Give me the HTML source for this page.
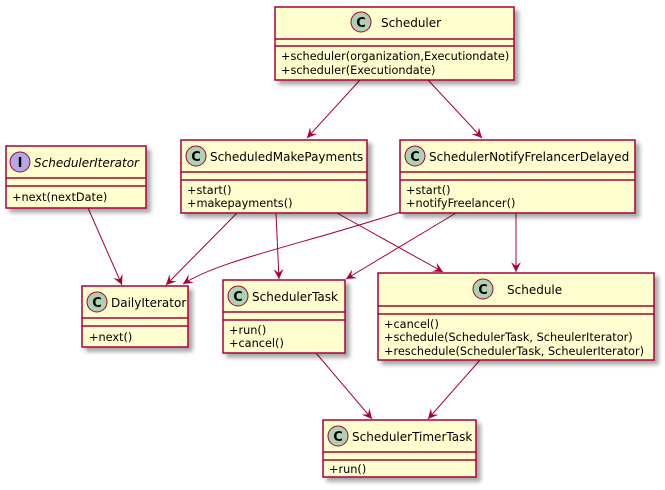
<!DOCTYPE html>
<html><head><style>body{margin:0;background:#fff}svg{display:block}text{font-family:"DejaVu Sans","Liberation Sans",sans-serif;fill:#000}</style></head><body>
<svg width="665" height="490" viewBox="0 0 665 490" xmlns="http://www.w3.org/2000/svg">
<defs>
<filter id="sh" x="-10%" y="-10%" width="130%" height="130%"><feGaussianBlur in="SourceAlpha" stdDeviation="2"/><feOffset dx="4" dy="4"/><feComponentTransfer><feFuncA type="linear" slope="0.35"/></feComponentTransfer><feMerge><feMergeNode/><feMergeNode in="SourceGraphic"/></feMerge></filter>
<marker id="a" markerWidth="12" markerHeight="12" refX="10" refY="5" orient="auto" markerUnits="userSpaceOnUse"><path d="M0,0 L10,5 L0,10 L4,5 Z" fill="#A80036"/></marker>
</defs>
<g stroke="#A80036" fill="none" stroke-width="1">
<line x1="360" y1="80" x2="307" y2="138" marker-end="url(#a)"/>
<line x1="428" y1="80" x2="482" y2="138" marker-end="url(#a)"/>
<line x1="88" y1="208" x2="122" y2="285" marker-end="url(#a)"/>
<line x1="237" y1="213" x2="166" y2="285" marker-end="url(#a)"/>
<path d="M401,212 C300,245 220,260 183,284" marker-end="url(#a)"/>
<line x1="456" y1="213" x2="346" y2="279" marker-end="url(#a)"/>
<line x1="516" y1="213" x2="516" y2="272" marker-end="url(#a)"/>
<line x1="276" y1="213" x2="279" y2="279" marker-end="url(#a)"/>
<line x1="337" y1="213" x2="443" y2="272" marker-end="url(#a)"/>
<line x1="316" y1="353" x2="372" y2="419" marker-end="url(#a)"/>
<line x1="480" y1="360" x2="428" y2="419" marker-end="url(#a)"/>
</g>
<g font-size="11.3">
<g filter="url(#sh)"><rect x="275" y="7" width="239" height="73" fill="#FEFECE" stroke="#A80036" stroke-width="1.5"/></g>
<line x1="275" y1="39" x2="514" y2="39" stroke="#A80036" stroke-width="1.5"/><line x1="275" y1="46" x2="514" y2="46" stroke="#A80036" stroke-width="1.5"/>
<circle cx="361" cy="22" r="10" fill="#ADD1B2" stroke="#A80036"/><text x="361" y="27" font-size="13" font-weight="bold" text-anchor="middle">C</text>
<text x="381" y="27" font-size="12">Scheduler</text>
<text x="281" y="60">+scheduler(organization,Executiondate)</text><text x="281" y="74">+scheduler(Executiondate)</text>

<g filter="url(#sh)"><rect x="6" y="146" width="140" height="62" fill="#FEFECE" stroke="#A80036" stroke-width="1.5"/></g>
<line x1="6" y1="178" x2="146" y2="178" stroke="#A80036" stroke-width="1.5"/><line x1="6" y1="186" x2="146" y2="186" stroke="#A80036" stroke-width="1.5"/>
<circle cx="20" cy="162" r="10" fill="#B4A7E5" stroke="#A80036"/><text x="20" y="167" font-size="13" font-weight="bold" text-anchor="middle">I</text>
<text x="34" y="167" font-size="12" font-style="italic">SchedulerIterator</text>
<text x="12" y="201">+next(nextDate)</text>

<g filter="url(#sh)"><rect x="181" y="140" width="186" height="73" fill="#FEFECE" stroke="#A80036" stroke-width="1.5"/></g>
<line x1="181" y1="172" x2="367" y2="172" stroke="#A80036" stroke-width="1.5"/><line x1="181" y1="180" x2="367" y2="180" stroke="#A80036" stroke-width="1.5"/>
<circle cx="196" cy="156" r="10" fill="#ADD1B2" stroke="#A80036"/><text x="196" y="161" font-size="13" font-weight="bold" text-anchor="middle">C</text>
<text x="210" y="161" font-size="12">ScheduledMakePayments</text>
<text x="187" y="194">+start()</text><text x="187" y="207">+makepayments()</text>

<g filter="url(#sh)"><rect x="400" y="140" width="235" height="73" fill="#FEFECE" stroke="#A80036" stroke-width="1.5"/></g>
<line x1="400" y1="172" x2="635" y2="172" stroke="#A80036" stroke-width="1.5"/><line x1="400" y1="180" x2="635" y2="180" stroke="#A80036" stroke-width="1.5"/>
<circle cx="415" cy="156" r="10" fill="#ADD1B2" stroke="#A80036"/><text x="415" y="161" font-size="13" font-weight="bold" text-anchor="middle">C</text>
<text x="429" y="161" font-size="12">SchedulerNotifyFrelancerDelayed</text>
<text x="406" y="194">+start()</text><text x="406" y="207">+notifyFreelancer()</text>

<g filter="url(#sh)"><rect x="82" y="286" width="106" height="61" fill="#FEFECE" stroke="#A80036" stroke-width="1.5"/></g>
<line x1="82" y1="318" x2="188" y2="318" stroke="#A80036" stroke-width="1.5"/><line x1="82" y1="326" x2="188" y2="326" stroke="#A80036" stroke-width="1.5"/>
<circle cx="97" cy="302" r="10" fill="#ADD1B2" stroke="#A80036"/><text x="97" y="307" font-size="13" font-weight="bold" text-anchor="middle">C</text>
<text x="111" y="307" font-size="12">DailyIterator</text>
<text x="89" y="341">+next()</text>

<g filter="url(#sh)"><rect x="223" y="280" width="122" height="73" fill="#FEFECE" stroke="#A80036" stroke-width="1.5"/></g>
<line x1="223" y1="312" x2="345" y2="312" stroke="#A80036" stroke-width="1.5"/><line x1="223" y1="320" x2="345" y2="320" stroke="#A80036" stroke-width="1.5"/>
<circle cx="238" cy="296" r="10" fill="#ADD1B2" stroke="#A80036"/><text x="238" y="301" font-size="13" font-weight="bold" text-anchor="middle">C</text>
<text x="252" y="301" font-size="12">SchedulerTask</text>
<text x="229" y="334">+run()</text><text x="229" y="347">+cancel()</text>

<g filter="url(#sh)"><rect x="378" y="273" width="276" height="87" fill="#FEFECE" stroke="#A80036" stroke-width="1.5"/></g>
<line x1="378" y1="306" x2="654" y2="306" stroke="#A80036" stroke-width="1.5"/><line x1="378" y1="314" x2="654" y2="314" stroke="#A80036" stroke-width="1.5"/>
<circle cx="483" cy="289" r="10" fill="#ADD1B2" stroke="#A80036"/><text x="483" y="294" font-size="13" font-weight="bold" text-anchor="middle">C</text>
<text x="507" y="294" font-size="12">Schedule</text>
<text x="384" y="328">+cancel()</text><text x="384" y="341">+schedule(SchedulerTask, ScheulerIterator)</text><text x="384" y="355">+reschedule(SchedulerTask, ScheulerIterator)</text>

<g filter="url(#sh)"><rect x="323" y="420" width="153" height="57" fill="#FEFECE" stroke="#A80036" stroke-width="1.5"/></g>
<line x1="323" y1="452" x2="476" y2="452" stroke="#A80036" stroke-width="1.5"/><line x1="323" y1="460" x2="476" y2="460" stroke="#A80036" stroke-width="1.5"/>
<circle cx="338" cy="436" r="10" fill="#ADD1B2" stroke="#A80036"/><text x="338" y="441" font-size="13" font-weight="bold" text-anchor="middle">C</text>
<text x="352" y="441" font-size="12">SchedulerTimerTask</text>
<text x="329" y="473">+run()</text>
</g>
</svg>
</body></html>
